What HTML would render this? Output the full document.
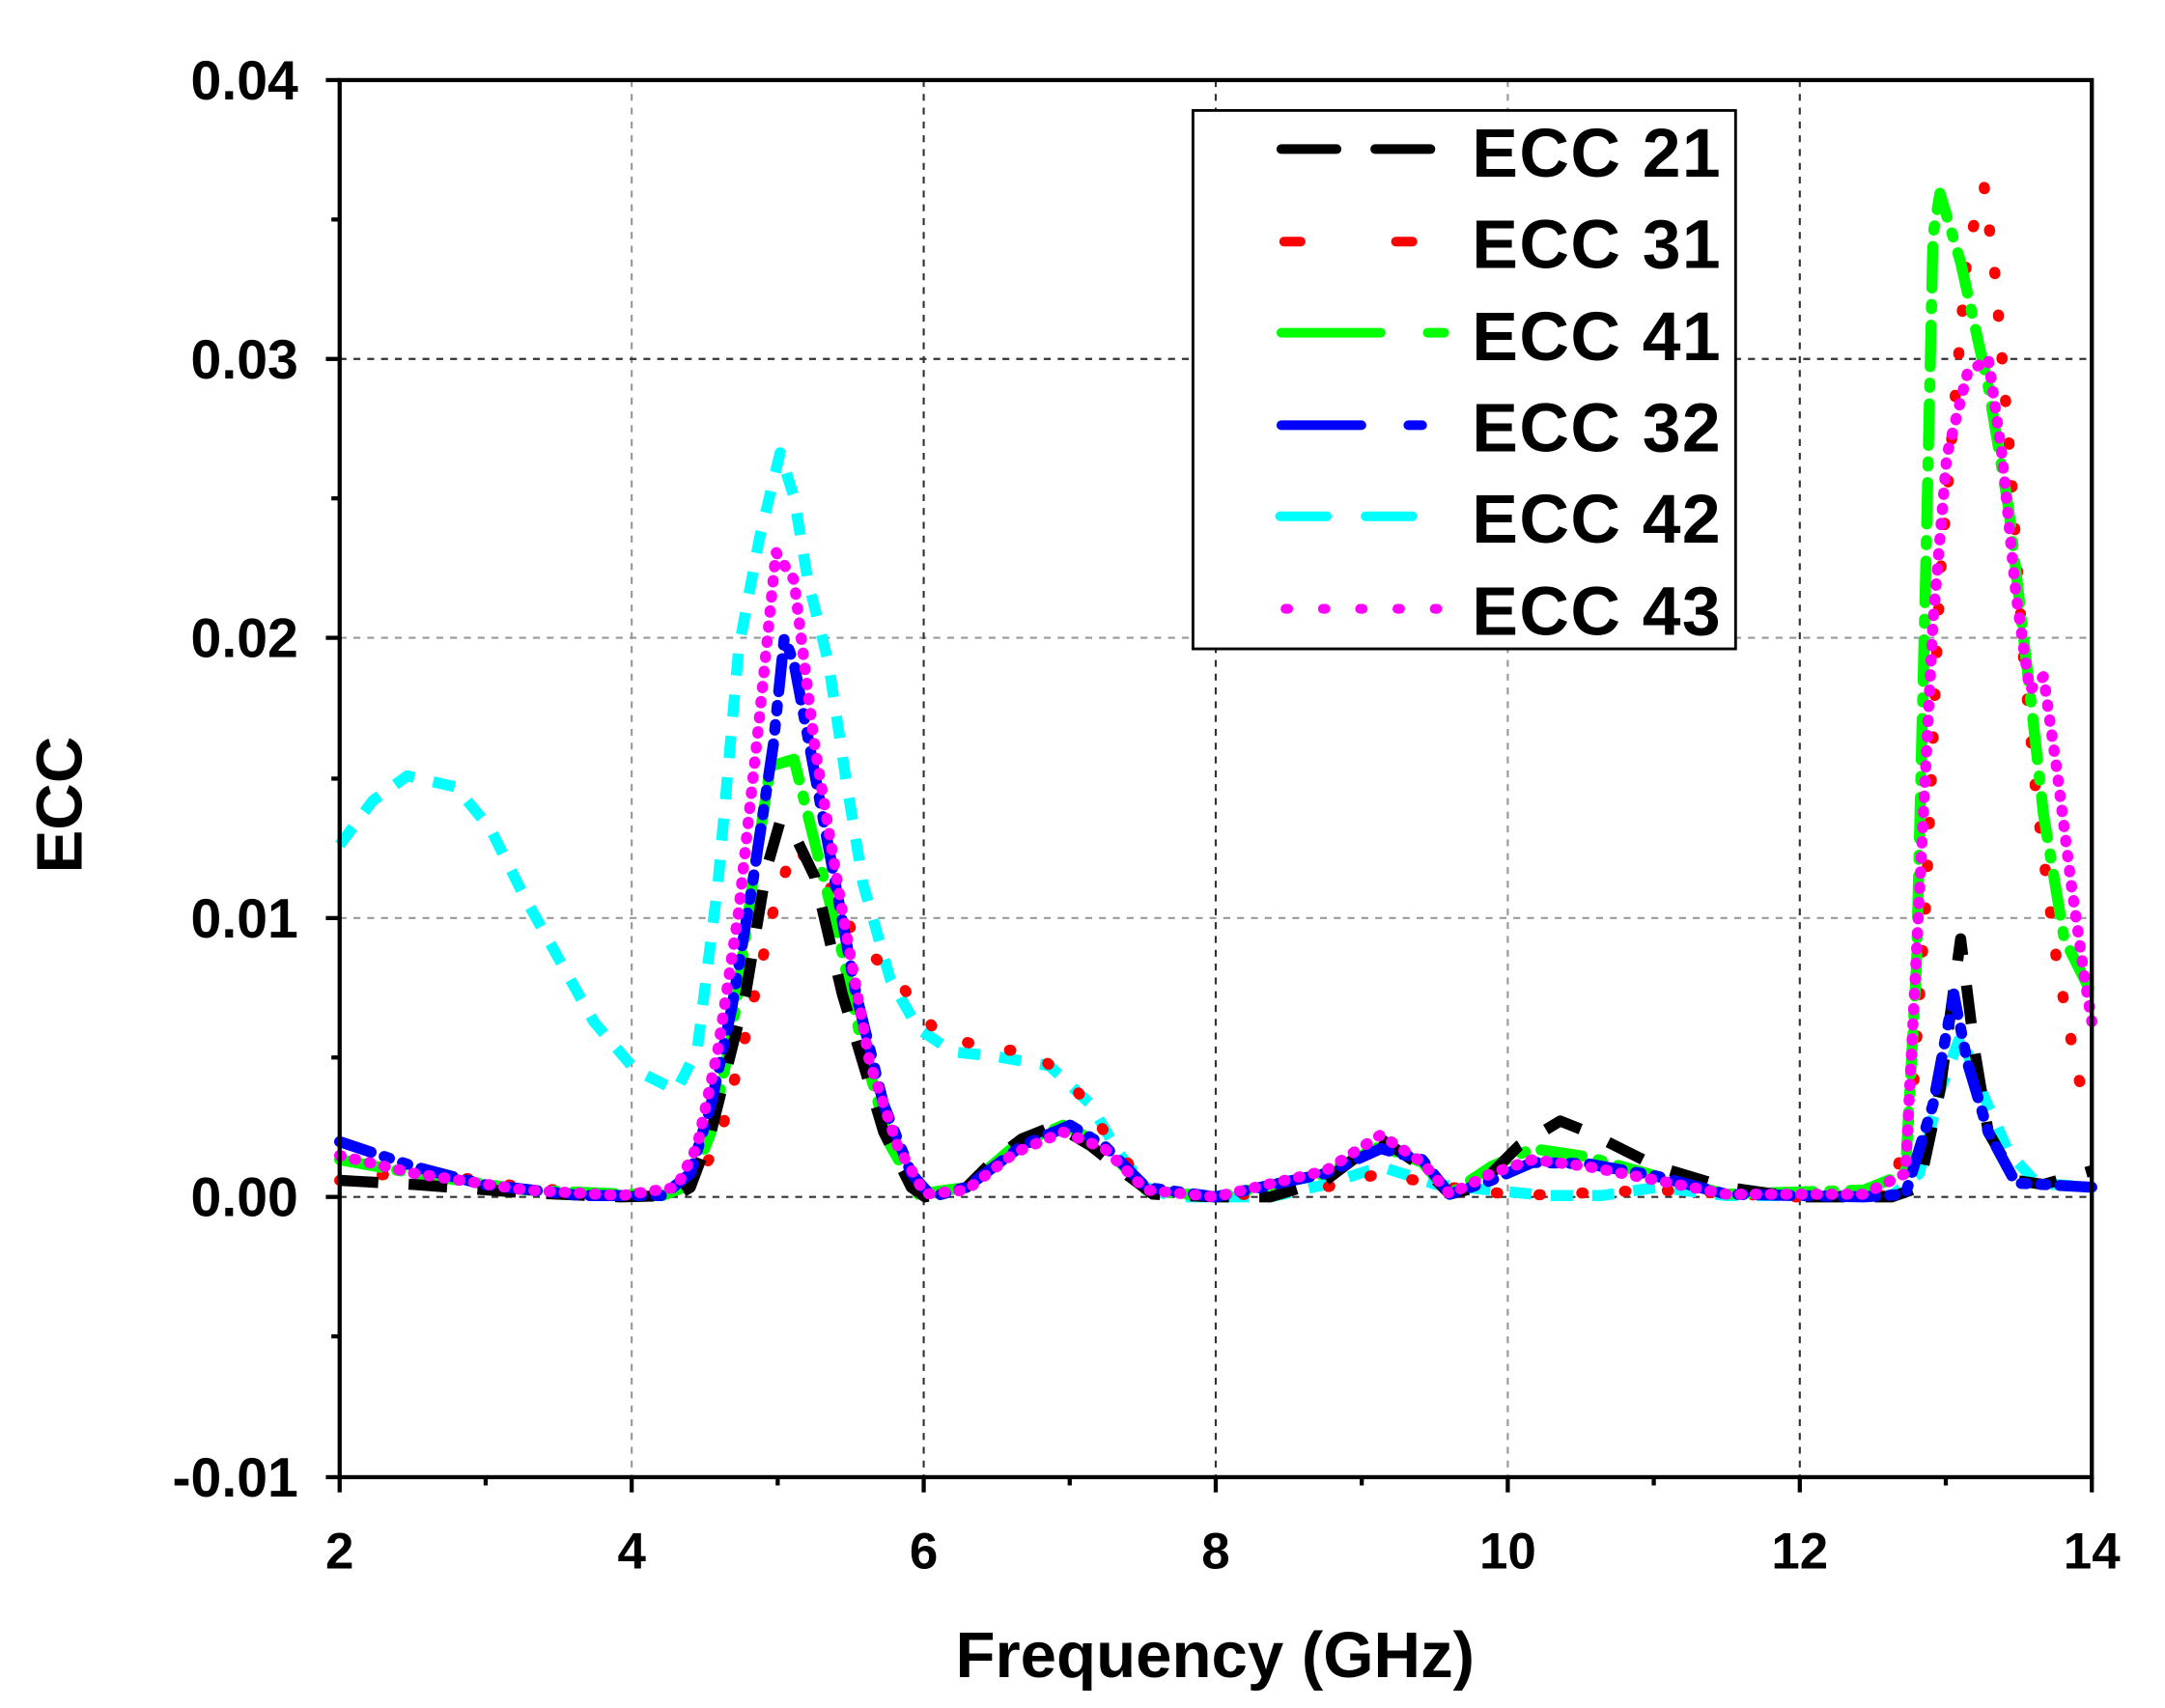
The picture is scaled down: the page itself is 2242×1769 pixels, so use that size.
<!DOCTYPE html>
<html><head><meta charset="utf-8"><style>
html,body{margin:0;padding:0;background:#fff;}
svg{display:block;}
text{font-family:"Liberation Sans",Arial,sans-serif;font-weight:bold;fill:#000;}
</style></head><body>
<svg width="2242" height="1769" viewBox="0 0 1568 1237.2" preserveAspectRatio="none" xmlns="http://www.w3.org/2000/svg">
<rect x="0" y="0" width="1568" height="1238" fill="#fff"/>
<g stroke="#999" stroke-width="1.5" stroke-dasharray="5,5" fill="none">
<line x1="457.5" y1="58" x2="457.5" y2="1070"/>
<line x1="1092" y1="58" x2="1092" y2="1070"/>
<line x1="246" y1="462" x2="1515" y2="462"/>
<line x1="246" y1="665" x2="1515" y2="665"/>
</g>
<g stroke="#333" stroke-width="1.5" stroke-dasharray="5,5" fill="none">
<line x1="669" y1="58" x2="669" y2="1070"/>
<line x1="880.5" y1="58" x2="880.5" y2="1070"/>
<line x1="1303.5" y1="58" x2="1303.5" y2="1070"/>
<line x1="246" y1="260" x2="1515" y2="260"/>
<line x1="246" y1="867" x2="1515" y2="867"/>
</g>
<g fill="none" stroke-width="8" stroke-linecap="round" stroke-linejoin="round">
<polyline stroke="#00ffff" stroke-dasharray="16,14" stroke-linecap="butt" points="246,612 270,580 295,562 330,570 355,600 380,650 405,695 430,740 460,775 490,790 505,760 520,640 535,470 550,390 565,328 575,360 585,420 600,480 612,560 625,640 645,710 665,745 690,762 720,765 760,772 790,800 810,835 830,860 850,867 920,867 960,858 1000,845 1040,858 1080,862 1120,866 1160,866 1200,860 1250,866 1370,866 1390,850 1405,790 1420,750 1435,790 1455,835 1475,857 1515,860"/>
<polyline stroke="#ff0000" stroke-dasharray="1,30" points="246,855 300,848 380,860 450,866 500,860 520,830 540,750 560,660 575,612 600,640 620,680 650,710 680,750 720,760 750,762 780,790 800,820 830,860 880,867 960,860 1000,850 1050,860 1100,866 1200,862 1300,867 1370,866 1385,800 1395,650 1405,420 1415,300 1425,180 1437,135 1445,200 1455,320 1465,470 1475,580 1490,700 1505,780 1515,808"/>
<polyline stroke="#00ff00" stroke-dasharray="30,12,3,12" points="246,840 300,850 380,862 480,866 500,858 515,820 530,750 545,640 558,555 575,550 590,610 610,690 625,760 645,830 665,865 700,860 735,830 770,815 800,830 830,862 880,867 960,850 1000,830 1030,842 1050,865 1080,845 1110,832 1150,838 1200,852 1250,865 1350,862 1380,850 1388,700 1395,400 1400,170 1405,140 1420,190 1440,280 1455,370 1470,500 1480,590 1495,680 1515,720"/>
<polyline stroke="#000000" stroke-dasharray="28,22" stroke-linecap="butt" points="246,855 300,858 380,864 450,867 490,866 500,860 515,820 525,780 540,720 555,630 565,595 578,610 590,635 610,720 625,770 640,820 660,860 670,867 700,860 720,840 740,825 765,815 790,830 815,850 835,865 880,867 920,867 960,855 1000,825 1030,845 1050,865 1070,860 1100,830 1130,812 1150,820 1200,845 1250,860 1300,867 1370,867 1390,860 1405,790 1420,680 1430,760 1440,820 1460,855 1480,858 1515,848"/>
<polyline stroke="#0000ff" stroke-dasharray="24,10,4,10,4,10" points="246,827 300,845 350,858 420,866 480,866 500,850 515,800 530,730 545,640 560,540 568,462 575,480 590,560 605,640 620,720 640,800 660,850 675,867 700,860 740,830 775,815 800,830 830,860 880,867 960,850 1000,832 1030,840 1050,865 1080,855 1110,842 1150,843 1200,852 1250,865 1350,867 1380,865 1400,800 1415,720 1425,770 1440,820 1460,857 1480,858 1515,860"/>
<polyline stroke="#ff00ff" stroke-dasharray="1,10" points="246,837 300,850 380,862 450,866 490,860 505,830 520,760 535,660 550,520 562,400 575,420 590,540 610,660 630,770 650,830 670,865 700,862 735,835 770,820 800,832 830,862 880,867 960,848 1000,822 1030,842 1050,865 1080,850 1110,840 1150,845 1200,855 1250,865 1350,865 1380,850 1390,650 1400,450 1410,330 1425,270 1440,260 1450,330 1460,430 1470,500 1480,490 1490,560 1500,640 1510,710 1515,740"/>
</g>
<rect x="246" y="58" width="1269" height="1012" fill="none" stroke="#000" stroke-width="3"/>
<g stroke="#000" stroke-width="3">
<line x1="236" y1="58" x2="246" y2="58"/><line x1="236" y1="260" x2="246" y2="260"/><line x1="236" y1="462" x2="246" y2="462"/><line x1="236" y1="665" x2="246" y2="665"/><line x1="236" y1="867" x2="246" y2="867"/><line x1="236" y1="1070" x2="246" y2="1070"/>
<line x1="240" y1="159" x2="246" y2="159"/><line x1="240" y1="361" x2="246" y2="361"/><line x1="240" y1="564" x2="246" y2="564"/><line x1="240" y1="766" x2="246" y2="766"/><line x1="240" y1="968" x2="246" y2="968"/>
<line x1="246" y1="1070" x2="246" y2="1081"/><line x1="457.5" y1="1070" x2="457.5" y2="1081"/><line x1="669" y1="1070" x2="669" y2="1081"/><line x1="880.5" y1="1070" x2="880.5" y2="1081"/><line x1="1092" y1="1070" x2="1092" y2="1081"/><line x1="1303.5" y1="1070" x2="1303.5" y2="1081"/><line x1="1515" y1="1070" x2="1515" y2="1081"/>
<line x1="351.75" y1="1070" x2="351.75" y2="1076"/><line x1="563.25" y1="1070" x2="563.25" y2="1076"/><line x1="774.75" y1="1070" x2="774.75" y2="1076"/><line x1="986.25" y1="1070" x2="986.25" y2="1076"/><line x1="1197.75" y1="1070" x2="1197.75" y2="1076"/><line x1="1409.25" y1="1070" x2="1409.25" y2="1076"/>
</g>
<g font-size="40" text-anchor="end">
<text x="216" y="72">0.04</text><text x="216" y="274">0.03</text><text x="216" y="476">0.02</text><text x="216" y="679">0.01</text><text x="216" y="881">0.00</text><text x="216" y="1084">-0.01</text>
</g>
<g font-size="37" text-anchor="middle">
<text x="246" y="1136">2</text><text x="457.5" y="1136">4</text><text x="669" y="1136">6</text><text x="880.5" y="1136">8</text><text x="1092" y="1136">10</text><text x="1303.5" y="1136">12</text><text x="1515" y="1136">14</text>
</g>
<text x="880" y="1215" font-size="47" text-anchor="middle">Frequency (GHz)</text>
<text transform="translate(59,583) rotate(-90)" font-size="47" text-anchor="middle">ECC</text>
<rect x="864" y="80" width="393" height="390" fill="#fff" stroke="#000" stroke-width="2"/>
<g fill="none" stroke-width="7">
<line x1="928" y1="108" x2="1050" y2="108" stroke="#000" stroke-dasharray="40,28" stroke-linecap="round"/>
<line x1="930" y1="175" x2="1050" y2="175" stroke="#f00" stroke-dasharray="12,69" stroke-linecap="round"/>
<line x1="928" y1="241" x2="1050" y2="241" stroke="#0f0" stroke-dasharray="72,34,12" stroke-linecap="round"/>
<line x1="928" y1="308" x2="1040" y2="308" stroke="#00f" stroke-dasharray="58,34,10,34,14" stroke-linecap="round"/>
<line x1="927" y1="374" x2="1040" y2="374" stroke="#0ff" stroke-dasharray="34,28" stroke-linecap="round"/>
<line x1="931" y1="441" x2="1050" y2="441" stroke="#f0f" stroke-dasharray="2,25" stroke-linecap="round"/>
</g>
<g font-size="50" letter-spacing="1">
<text x="1066" y="128">ECC 21</text><text x="1066" y="194">ECC 31</text><text x="1066" y="261">ECC 41</text><text x="1066" y="327">ECC 32</text><text x="1066" y="393">ECC 42</text><text x="1066" y="460">ECC 43</text>
</g>
</svg>
</body></html>
